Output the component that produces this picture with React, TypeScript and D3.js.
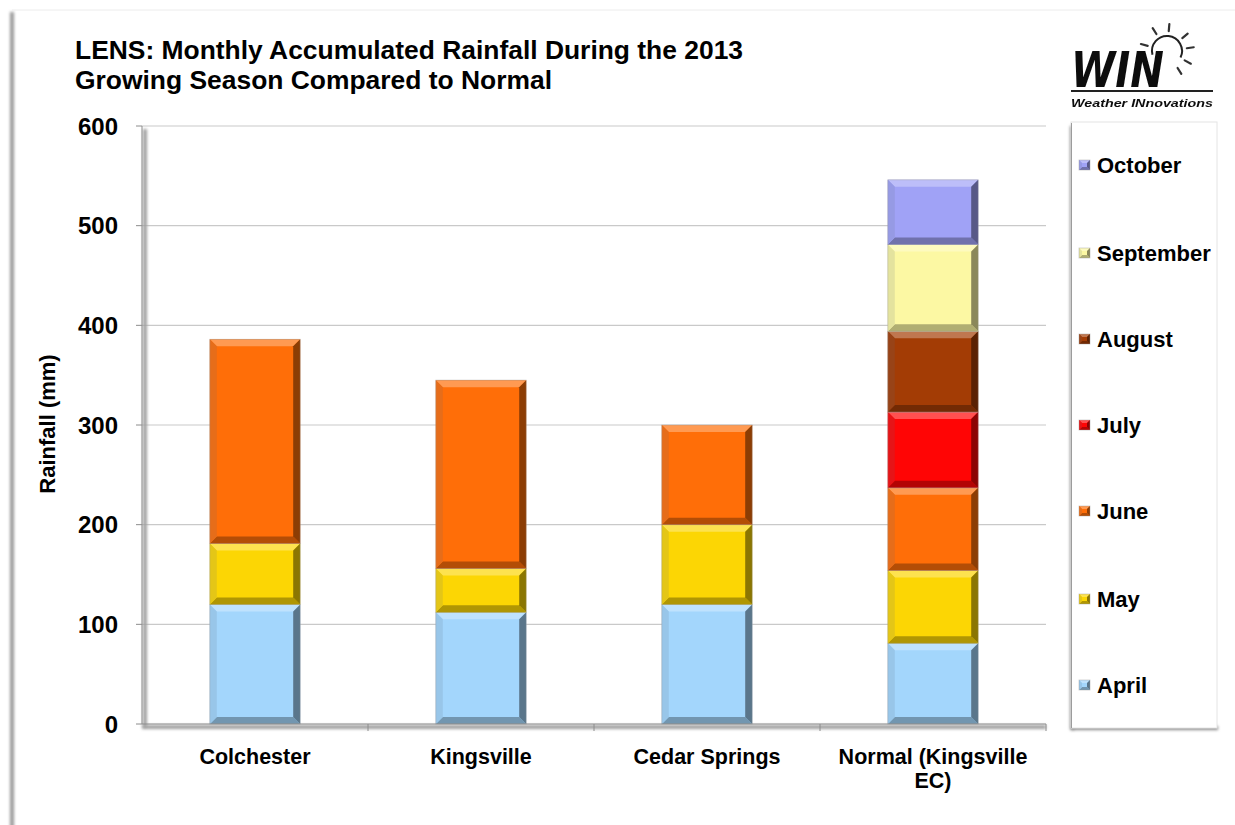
import React from "react";
import * as d3 from "d3";

const categories = ["Colchester", "Kingsville", "Cedar Springs", "Normal (Kingsville EC)"];
const categoryLines = [["Colchester"], ["Kingsville"], ["Cedar Springs"], ["Normal (Kingsville", "EC)"]];
const months = ["April", "May", "June", "July", "August", "September", "October"];
const april = [120, 112, 120, 81];
const may = [61, 44, 80, 73];
const june = [205, 189, 100, 83];
const july = [0, 0, 0, 76];
const august = [0, 0, 0, 81];
const september = [0, 0, 0, 87];
const october = [0, 0, 0, 65];
const yTicks = [0, 100, 200, 300, 400, 500, 600];
const monthColors = ["#A3D6FC", "#FCD604", "#FF6E08", "#FF0505", "#A33C05", "#FCF8A3", "#A0A2F6"];

const seriesValues = [april, may, june, july, august, september, october];

const W = 1235, H = 825;
const plotL = 142, plotR = 1046, plotT = 126, plotB = 724;
const FONT = "Liberation Sans, Arial, sans-serif";

function bevel(x0: number, y0: number, x1: number, y1: number, color: string, key: string, bmax = 7) {
  const h = y1 - y0;
  const b = Math.min(bmax, h / 3);
  const light = d3.interpolateRgb(color, "#ffffff")(0.3);
  const dark = d3.interpolateRgb(color, "#000000")(0.3);
  const darkR = d3.interpolateRgb(color, "#000000")(0.45);
  const left = d3.interpolateRgb(color, "#5a6a80")(0.15);
  const pts = (p: number[][]) => p.map((q) => q.join(",")).join(" ");
  return (
    <g key={key}>
      <rect x={x0} y={y0} width={x1 - x0} height={h} fill={color} />
      <polygon points={pts([[x0, y0], [x1, y0], [x1 - b, y0 + b], [x0 + b, y0 + b]])} fill={light} />
      <polygon points={pts([[x0, y1], [x1, y1], [x1 - b, y1 - b], [x0 + b, y1 - b]])} fill={dark} />
      <polygon points={pts([[x0, y0], [x0 + b, y0 + b], [x0 + b, y1 - b], [x0, y1]])} fill={left} />
      <polygon points={pts([[x1, y0], [x1 - b, y0 + b], [x1 - b, y1 - b], [x1, y1]])} fill={darkR} />
      <rect x={x0} y={y0} width={x1 - x0} height={h} fill="none" stroke="#9a9a9a" strokeOpacity={0.5} strokeWidth={0.8} />
    </g>
  );
}

export default function App() {
  const x = d3.scaleBand<string>().domain(categories).range([plotL, plotR]).paddingInner(0.6).paddingOuter(0.3);
  const y = d3.scaleLinear().domain([0, 600]).range([plotB, plotT]);

  const rows = categories.map((c, i) => {
    const r: Record<string, number | string> = { cat: c };
    months.forEach((m, j) => (r[m] = seriesValues[j][i]));
    return r;
  });
  const stacked = d3.stack<any>().keys(months)(rows);

  const step = x.step();
  const boundaries = categories.map((_, i) => plotL + step * (i + 1));

  const legendYs = [685, 599, 511, 425, 339, 253, 165];

  const sunC = [1167, 51];
  const sunR = 15;
  const arc = d3.arc()({ innerRadius: sunR, outerRadius: sunR, startAngle: -Math.PI / 2 - 0.25, endAngle: Math.PI / 2 + 0.45 } as any);
  const rayAngles = [-165, -122, -85, -40, -8, 28, 58];

  return (
    <svg width={W} height={H} style={{ position: "absolute", left: 0, top: 0 }} fontFamily={FONT}>
      <defs>
        <filter id="blur2" filterUnits="userSpaceOnUse" x={0} y={0} width={W} height={H}>
          <feGaussianBlur stdDeviation="1.5" />
        </filter>
        <filter id="blurLogo" filterUnits="userSpaceOnUse" x={1040} y={0} width={195} height={120}>
          <feGaussianBlur stdDeviation="0.5" />
        </filter>
      </defs>
      <rect x={0} y={0} width={W} height={H} fill="#ffffff" />
      {/* outer frame */}
      <rect x={10} y={12} width={4} height={H} fill="#9a9a9a" filter="url(#blur2)" />
      <line x1={12} y1={10} x2={W} y2={10} stroke="#ececec" strokeWidth={1} />

      {/* title */}
      <text x={75} y={59} fontSize={25} fontWeight="bold" fill="#000" textLength={668} lengthAdjust="spacingAndGlyphs">
        LENS: Monthly Accumulated Rainfall During the 2013
      </text>
      <text x={75} y={89} fontSize={25} fontWeight="bold" fill="#000" textLength={477} lengthAdjust="spacingAndGlyphs">
        Growing Season Compared to Normal
      </text>

      {/* gridlines */}
      {yTicks.filter((t) => t > 0).map((t) => (
        <line key={t} x1={plotL} x2={plotR} y1={y(t)} y2={y(t)} stroke="#c9c9c9" strokeWidth={1.2} />
      ))}

      {/* plot shadow */}
      <rect x={plotL + 1} y={plotT + 3} width={4} height={plotB - plotT} fill="#a0a0a0" filter="url(#blur2)" />
      <rect x={plotL} y={plotB + 1} width={plotR - plotL} height={4} fill="#a0a0a0" filter="url(#blur2)" />

      {/* bars */}
      {stacked.map((s, j) =>
        s.map((d, i) => {
          const v = d[1] - d[0];
          if (v <= 0) return null;
          const x0 = x(categories[i])!;
          return bevel(x0, y(d[1]), x0 + x.bandwidth(), y(d[0]), monthColors[j], `${j}-${i}`);
        })
      )}

      {/* axes */}
      <line x1={plotL} y1={plotT} x2={plotL} y2={plotB} stroke="#8c8c8c" strokeWidth={1} />
      <line x1={plotL} y1={plotB} x2={plotR} y2={plotB} stroke="#8c8c8c" strokeWidth={1} />
      {yTicks.map((t) => (
        <g key={t}>
          <line x1={plotL - 6} x2={plotL} y1={y(t)} y2={y(t)} stroke="#8c8c8c" />
          <text x={118} y={y(t)} dy="0.36em" textAnchor="end" fontSize={24} fontWeight="bold" fill="#000">
            {t}
          </text>
        </g>
      ))}
      {boundaries.map((bx, i) => (
        <line key={i} x1={bx} x2={bx} y1={plotB} y2={plotB + 7} stroke="#8c8c8c" />
      ))}
      {categories.map((c, i) => (
        <text key={c} x={x(c)! + x.bandwidth() / 2} y={764} textAnchor="middle" fontSize={21.5} fontWeight="bold" fill="#000">
          {categoryLines[i].map((ln, k) => (
            <tspan key={k} x={x(c)! + x.bandwidth() / 2} dy={k === 0 ? 0 : 24}>
              {ln}
            </tspan>
          ))}
        </text>
      ))}
      <text transform={`translate(55,424) rotate(-90)`} textAnchor="middle" fontSize={22} fontWeight="bold" fill="#000">
        Rainfall (mm)
      </text>

      {/* legend */}
      <rect x={1070} y={126} width={4} height={604} fill="#8a8a8a" filter="url(#blur2)" />
      <rect x={1072} y={726} width={146} height={4} fill="#8a8a8a" filter="url(#blur2)" />
      <rect x={1071} y={122} width={146} height={606} fill="#fff" stroke="#e4e4e4" strokeWidth={1} />
      <line x1={1071.5} y1={123} x2={1071.5} y2={728} stroke="#9c9c9c" strokeWidth={1} />
      {months.map((m, j) => {
        const ly = legendYs[j];
        return (
          <g key={m}>
            {bevel(1079, ly - 5, 1090, ly + 5, monthColors[j], `leg-${m}`, 3)}
            <text x={1097} y={ly} dy="0.36em" fontSize={22} fontWeight="bold" fill="#000">
              {m}
            </text>
          </g>
        );
      })}

      {/* logo */}
      <g filter="url(#blurLogo)">
        <text x={1071} y={87} fontSize={45} fontWeight="bold" fontStyle="italic" fill="#111" textLength={93} lengthAdjust="spacingAndGlyphs" fontFamily="DejaVu Sans, Arial, sans-serif" transform="translate(0,-10) scale(1,1.12)">
          WIN
        </text>
        <path d={arc!} transform={`translate(${sunC[0]},${sunC[1]})`} fill="none" stroke="#222" strokeWidth={2} />
        {rayAngles.map((a, k) => {
          const r = (a * Math.PI) / 180;
          return (
            <line
              key={k}
              x1={sunC[0] + Math.cos(r) * (sunR + 5)}
              y1={sunC[1] + Math.sin(r) * (sunR + 5)}
              x2={sunC[0] + Math.cos(r) * (sunR + 12)}
              y2={sunC[1] + Math.sin(r) * (sunR + 12)}
              stroke="#333"
              strokeWidth={2.2}
              strokeLinecap="round"
            />
          );
        })}
        <line x1={1071} x2={1213} y1={91} y2={91} stroke="#222" strokeWidth={2} />
        <text x={1071} y={107} fontSize={11} fontWeight="bold" fontStyle="italic" fill="#111" textLength={142} lengthAdjust="spacingAndGlyphs">
          Weather INnovations
        </text>
      </g>
    </svg>
  );
}
